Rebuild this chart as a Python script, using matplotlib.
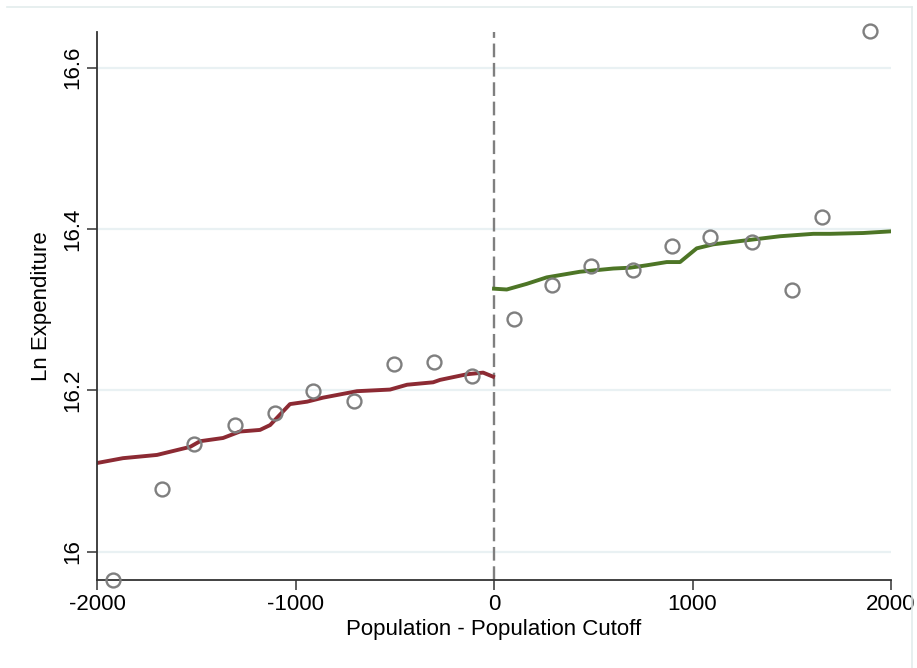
import matplotlib
matplotlib.use("Agg")
import matplotlib.pyplot as plt
from matplotlib.lines import Line2D

# binned means (hollow circles)
bin_x = [-1919, -1672, -1511, -1305, -1103, -912, -705, -504, -302, -111,
         101, 292, 489, 700, 897, 1088, 1300, 1501, 1652, 1894]
bin_y = [15.965, 16.078, 16.134, 16.157, 16.172, 16.199, 16.187, 16.233, 16.235, 16.218,
         16.288, 16.330, 16.354, 16.349, 16.379, 16.390, 16.384, 16.325, 16.415, 16.645]

# local fit left of cutoff
left_x = [-2000, -1869, -1698, -1531, -1481, -1365, -1280, -1179, -1128, -1028,
          -942, -861, -690, -524, -438, -307, -272, -136, -55, -5]
left_y = [16.110, 16.116, 16.120, 16.130, 16.137, 16.141, 16.149, 16.151, 16.157, 16.183,
          16.186, 16.191, 16.199, 16.201, 16.207, 16.210, 16.213, 16.220, 16.222, 16.217]

# local fit right of cutoff
right_x = [0, 64, 165, 265, 433, 601, 685, 769, 870, 937,
           1021, 1105, 1273, 1441, 1609, 1693, 1860, 1995]
right_y = [16.326, 16.325, 16.332, 16.340, 16.347, 16.351, 16.352, 16.355, 16.359, 16.359,
           16.376, 16.381, 16.386, 16.391, 16.394, 16.394, 16.395, 16.397]

xticks = [-2000, -1000, 0, 1000, 2000]
yticks = [16, 16.2, 16.4, 16.6]

plt.rcParams['font.family'] = ['Liberation Sans', 'DejaVu Sans']

fig = plt.figure(figsize=(9.17, 6.68), dpi=100)
ax = fig.add_axes([0.1058, 0.1317, 0.8659, 0.8203])

# outer frame (faint)
fig.add_artist(Line2D([7/917, 912/917], [1 - 7/668, 1 - 7/668], color='#e3ecec', lw=1.2))
fig.add_artist(Line2D([912/917, 912/917], [0, 1 - 7/668], color='#e3ecec', lw=1.2))

for yt in yticks:
    ax.axhline(yt, color='#e9f1f3', lw=1.6, zorder=0)

ax.axvline(0, color='#7f7f7f', lw=1.7, ls=(0, (5.8, 2.4)), zorder=1)

ax.plot(bin_x, bin_y, 'o', mfc='none', mec='#7f7f7f', ms=10, mew=1.7, zorder=3, clip_on=False)
ax.plot(left_x, left_y, color='#8c2a33', lw=2.8, zorder=2)
ax.plot(right_x, right_y, color='#4d7526', lw=2.8, zorder=2)

ax.set_xlim(-2000, 2000)
ax.set_ylim(15.965, 16.644)
ax.set_xticks(xticks)
ax.set_xticklabels([str(t) for t in xticks])
ax.set_yticks(yticks)
ax.set_yticklabels(['16', '16.2', '16.4', '16.6'], rotation=90, va='center')

for side in ['top', 'right']:
    ax.spines[side].set_visible(False)
for side in ['left', 'bottom']:
    ax.spines[side].set_color('#333333')
    ax.spines[side].set_linewidth(1.3)

ax.tick_params(axis='both', labelsize=16, length=7, width=1.1, color='#333333', pad=3)
ax.set_xlabel('Population - Population Cutoff', fontsize=16, va='center')
ax.set_ylabel('Ln Expenditure', fontsize=16, va='center')
ax.xaxis.set_label_coords(0.5, -0.0912)
ax.yaxis.set_label_coords(-0.0693, 0.5)

fig.savefig('out.png', dpi=100, facecolor='white')
